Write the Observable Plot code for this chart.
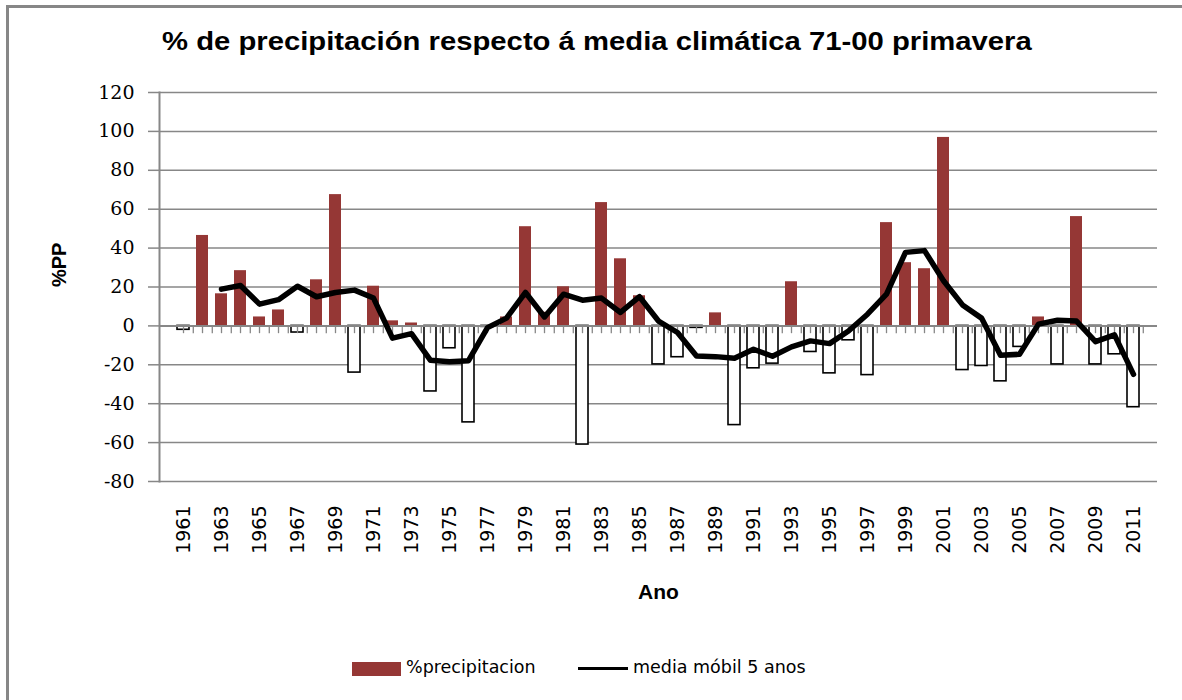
<!DOCTYPE html>
<html><head><meta charset="utf-8">
<script src="https://cdn.jsdelivr.net/npm/d3@7"></script>
<script src="https://cdn.jsdelivr.net/npm/@observablehq/plot@0.6"></script>
<style>
body{margin:0;background:#fff;}
#wrap{position:relative;width:1182px;height:700px;overflow:hidden;background:#fff;}
#border{position:absolute;left:6px;top:5px;width:1300px;height:800px;border-left:3px solid #878787;border-top:3px solid #878787;}
#title{position:absolute;top:27px;left:162px;font:bold 25px "Liberation Sans",Arial,sans-serif;white-space:nowrap;color:#000;transform:scaleX(1.17);transform-origin:0 0;}
#chart{position:absolute;left:0;top:70px;}
.lg{position:absolute;font:17.5px "DejaVu Sans",sans-serif;color:#000;white-space:nowrap;}
</style></head>
<body>
<div id="wrap">
  <div id="border"></div>
  <div id="title">% de precipitación respecto á media climática 71-00 primavera</div>
  <div id="chart"></div>
  <div class="lg" style="left:352px;top:662px;width:49px;height:14px;background:#953735;"></div>
  <div class="lg" style="left:406px;top:657px;">%precipitacion</div>
  <div class="lg" style="left:578px;top:667px;width:50px;height:3px;background:#000;"></div>
  <div class="lg" style="left:633px;top:657px;">media móbil 5 anos</div>
</div>
<script>
const years = [1961,1962,1963,1964,1965,1966,1967,1968,1969,1970,
  1971,1972,1973,1974,1975,1976,1977,1978,1979,1980,
  1981,1982,1983,1984,1985,1986,1987,1988,1989,1990,
  1991,1992,1993,1994,1995,1996,1997,1998,1999,2000,
  2001,2002,2003,2004,2005,2006,2007,2008,2009,2010,2011];
const precip = [-2,46.5,16.5,28.4,4.6,8.2,-3.4,23.7,67.5,-24,
  20.4,2.6,1.5,-33.7,-11.5,-49.6,-0.5,4.6,51,7,
  20.1,-61,63.4,34.5,15.5,-19.8,-16.1,-1,6.7,-51,
  -21.8,-19.4,22.7,-13.4,-24.4,-7.4,-25.3,53.1,32.5,29.4,
  96.9,-22.7,-20.6,-28.5,-10.8,4.6,-19.8,56.2,-19.8,-14.6,-41.8];
const maYears = [1963,1964,1965,1966,1967,1968,1969,1970,
  1971,1972,1973,1974,1975,1976,1977,1978,1979,1980,
  1981,1982,1983,1984,1985,1986,1987,1988,1989,1990,
  1991,1992,1993,1994,1995,1996,1997,1998,1999,2000,
  2001,2002,2003,2004,2005,2006,2007,2008,2009,2010,2011];
const maValues = [18.9,20.8,11.2,13.5,20.4,15,17.2,18.4,
  14.3,-6.3,-4,-17.7,-18.4,-17.9,-0.9,4,17.2,4.6,
  16.3,13.2,14.3,6.9,15,2.5,-3.4,-15.5,-15.8,-16.6,
  -12,-15.6,-10.8,-7.7,-9.1,-2.6,6,16.3,37.8,38.7,
  23.2,10.8,4,-15.1,-14.6,0.9,2.9,2.5,-8.1,-4.6,-24.9];
const yTicks = [-80,-60,-40,-20,0,20,40,60,80,100,120];
const xTickYears = [1961,1963,1965,1967,1969,1971,1973,1975,1977,1979,1981,1983,1985,1987,1989,1991,1993,1995,1997,1999,2001,2003,2005,2007,2009,2011];

const bars = years.map((y, i) => ({year: y, value: precip[i]}));
const ma = maYears.map((y, i) => ({year: y, value: maValues[i]}));
const pos = bars.filter(d => d.value >= 0);
const neg = bars.filter(d => d.value < 0);

const W = 1182, mL = 159, mR = 25;
const step = (W - mL - mR) / years.length;

const chart = Plot.plot({
  width: W,
  height: 560,
  marginTop: 22,
  marginBottom: 149,
  marginLeft: mL,
  marginRight: mR,
  style: {fontFamily: "DejaVu Sans", fontSize: "19px", color: "#000", background: "transparent"},
  x: {type: "band", domain: years, padding: 0.38, label: null},
  y: {domain: [-80, 120], label: null},
  marks: [
    Plot.gridY(yTicks, {stroke: "#878787", strokeOpacity: 1, strokeWidth: 1.5}),
    Plot.axisY(yTicks, {tickSize: 11, tickPadding: 14, stroke: "#878787", strokeWidth: 1.5,
      tickFormat: d => String(d), label: null}),
    Plot.axisX(xTickYears, {anchor: "bottom", tickSize: 0, tickRotate: -90, tickPadding: 24,
      tickFormat: d => String(d), label: null}),
    Plot.frame({anchor: "left", stroke: "#878787", strokeWidth: 2}),
    Plot.barY(pos, {x: "year", y: "value", fill: "#953735"}),
    Plot.barY(neg, {x: "year", y: "value", fill: "#fff", stroke: "#000", strokeWidth: 1.6}),
    Plot.ruleY([0], {stroke: "#878787", strokeWidth: 2}),
    Plot.ruleX(years, {x: d => d, y1: 0, y2: -4, stroke: "#878787", strokeWidth: 1.3}),
    Plot.ruleX(years, {x: d => d, y1: 0, y2: -4, dx: step / 2, stroke: "#878787", strokeWidth: 1.3}),
    Plot.line(ma, {x: "year", y: "value", stroke: "#000", strokeWidth: 5.5, strokeLinejoin: "round"}),
    Plot.text(["%PP"], {frameAnchor: "left", dx: -100, rotate: -90, fontWeight: "bold", fontSize: 20, fontFamily: "Liberation Sans"}),
    Plot.text(["Ano"], {frameAnchor: "bottom", dy: 117, fontWeight: "bold", fontSize: 21, fontFamily: "Liberation Sans"})
  ]
});
document.getElementById("chart").appendChild(chart);
// y tick labels in a serif face, as in the reference
const yLabelSet = new Set(yTicks.map(String));
d3.select(chart).selectAll("text").each(function() {
  if (yLabelSet.has(this.textContent)) {
    d3.select(this).style("font-family", "'DejaVu Serif', 'Liberation Serif', serif").style("font-size", "19px");
  }
});
</script>
</body></html>
